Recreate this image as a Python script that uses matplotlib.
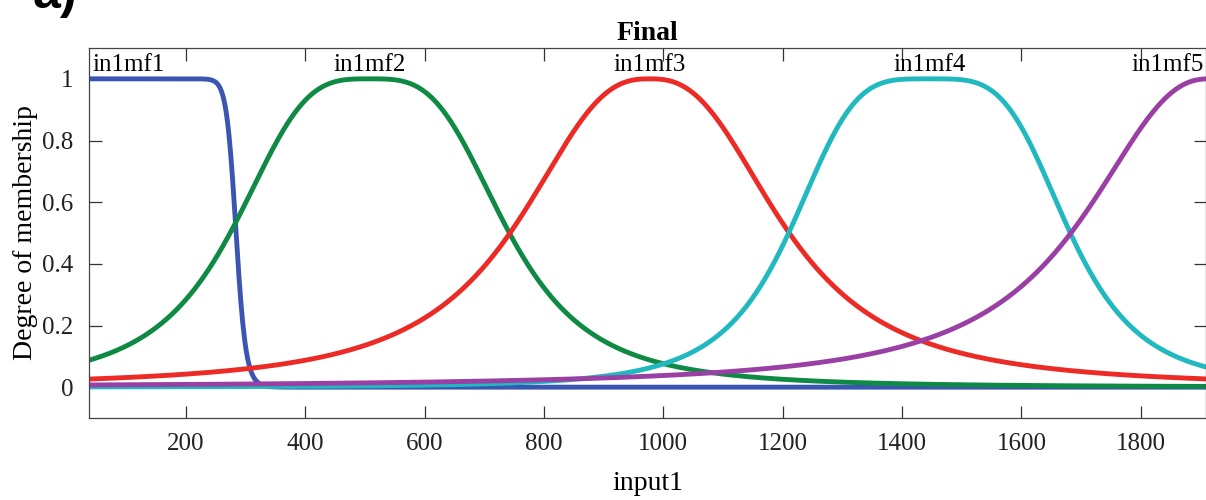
import matplotlib
matplotlib.use("Agg")
import numpy as np
import matplotlib.pyplot as plt

# membership functions of input1 (generalized bell: width a, slope b, centre c)
input_range = [37.5, 1910]
mf_names = ["in1mf1", "in1mf2", "in1mf3", "in1mf4", "in1mf5"]
mf_widths = [245, 234, 234, 236, 232]
mf_slopes = [15.0, 1.68, 1.3, 1.97, 1.18]
mf_centers = [39, 508, 977, 1446, 1915]
mf_colors = ["#3a55b2", "#0f8a44", "#ec2a26", "#20b9bf", "#9a3fa3"]

x_ticks = [200, 400, 600, 800, 1000, 1200, 1400, 1600, 1800]
y_ticks = [0, 0.2, 0.4, 0.6, 0.8, 1]
y_tick_labels = ["0", "0.2", "0.4", "0.6", "0.8", "1"]

plt.rcParams["font.family"] = ["Liberation Serif", "DejaVu Serif"]
plt.rcParams["font.size"] = 18

fig = plt.figure(figsize=(12.06, 5.0), dpi=100)
ax = fig.add_axes([0.0738, 0.164, 0.9265, 0.74])

x = np.linspace(input_range[0], input_range[1], 1200)
for a, b, c, color in zip(mf_widths, mf_slopes, mf_centers, mf_colors):
    y = 1.0 / (1.0 + np.abs((x - c) / a) ** (2 * b))
    ax.plot(x, y, color=color, linewidth=3.5, solid_capstyle="butt")

for i, (name, c) in enumerate(zip(mf_names, mf_centers)):
    if i == 0:
        ax.text(input_range[0] + 6, 1.026, name, ha="left", va="baseline")
    elif i == len(mf_names) - 1:
        ax.text(input_range[1] - 5, 1.026, name, ha="right", va="baseline")
    else:
        ax.text(c, 1.026, name, ha="center", va="baseline")

ax.set_xlim(input_range)
ax.set_ylim(-0.1, 1.1)
ax.set_xticks(x_ticks)
ax.set_yticks(y_ticks)
ax.set_yticklabels(y_tick_labels)
ax.tick_params(direction="in", length=9, width=0.9, top=True, right=True,
               colors="#333333", labelcolor="#222222")
ax.tick_params(axis="x", pad=11)
ax.tick_params(axis="y", pad=11)
for spine in ax.spines.values():
    spine.set_color("#444444")
    spine.set_linewidth(0.9)

ax.set_title("Final", fontweight="bold", fontsize=20, pad=6)
ax.set_xlabel("input1", fontsize=20, labelpad=11)
ax.set_ylabel("Degree of membership", fontsize=20, labelpad=3)

# panel letter, cut by the top edge in the source figure
fig.text(0.027, 0.984, "a)", fontsize=36, fontweight="bold", family="Liberation Sans",
         ha="left", va="baseline")

fig.savefig("out.png", dpi=100)
